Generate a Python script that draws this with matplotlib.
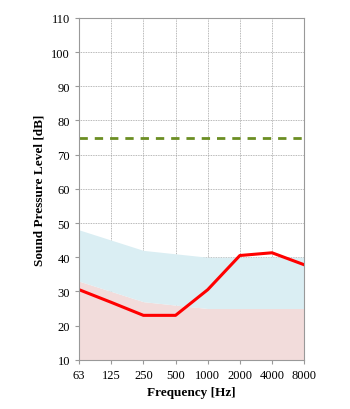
import matplotlib.pyplot as plt

freqs = ['63', '125', '250', '500', '1000', '2000', '4000', '8000']
measured = [30.5, 26.8, 23.0, 23.0, 30.5, 40.5, 41.3, 37.8]
lower_band = [33, 30, 27, 26, 25, 25, 25, 25]
upper_band = [48, 45, 42, 41, 40, 40, 40, 40]
limit = [75] * len(freqs)

plt.rcParams['font.family'] = ['Liberation Serif', 'DejaVu Serif']

fig = plt.figure(figsize=(3.5, 4.1), dpi=100)
ax = fig.add_axes([0.226, 0.12, 0.643, 0.834])
x = range(len(freqs))

ax.fill_between(x, 10, lower_band, color='#f2dcdb', lw=0, zorder=1)
ax.fill_between(x, lower_band, upper_band, color='#daeef3', lw=0, zorder=1)
ax.plot(x, measured, color='#ff0000', lw=2.2, zorder=3)
ax.plot(x, limit, color='#6b8e23', lw=2.0, ls=(0, (3, 2.5)), zorder=3)

ax.set_xlim(0, len(freqs) - 1)
ax.set_ylim(10, 110)
ax.set_xticks(list(x))
ax.set_xticklabels(freqs)
ax.set_yticks(range(10, 111, 10))
ax.set_axisbelow(True)
ax.grid(True, color='#a0a0a0', ls=(0, (1, 1)), lw=0.6)
for s in ax.spines.values():
    s.set_color('#999999')
    s.set_zorder(4)
ax.tick_params(colors='#999999', labelcolor='black', labelsize=9, length=3)
ax.set_xlabel('Frequency [Hz]', fontweight='bold', fontsize=9.5)
ax.set_ylabel('Sound Pressure Level [dB]', fontweight='bold', fontsize=9.5)

fig.savefig('out.png', dpi=100)
